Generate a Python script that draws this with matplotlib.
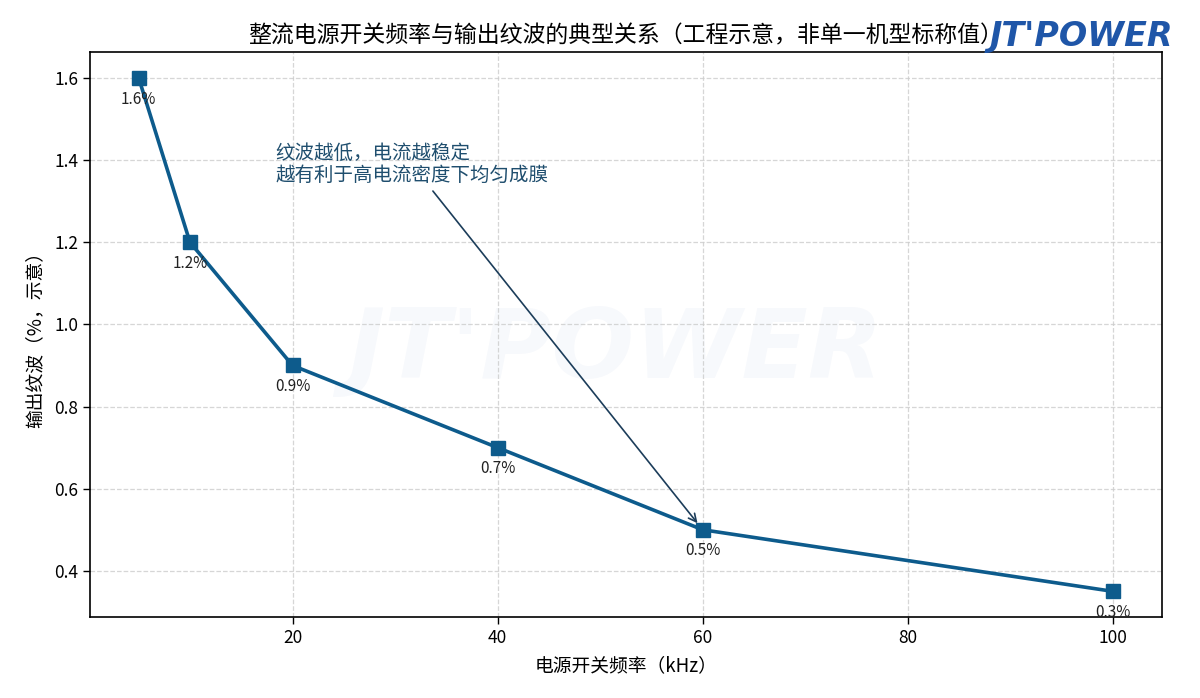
import matplotlib
matplotlib.use("Agg")
import matplotlib.pyplot as plt

freq_khz = [5, 10, 20, 40, 60, 100]
ripple_pct = [1.6, 1.2, 0.9, 0.7, 0.5, 0.35]
point_labels = ["1.6%", "1.2%", "0.9%", "0.7%", "0.5%", "0.3%"]

title = "整流电源开关频率与输出纹波的典型关系（工程示意，非单一机型标称值）"
xlabel = "电源开关频率（kHz）"
ylabel = "输出纹波（%，示意）"
note = "纹波越低，电流越稳定\n越有利于高电流密度下均匀成膜"
brand = "JT'POWER"

plt.rcParams['font.family'] = ['Noto Sans CJK SC', 'DejaVu Sans']
plt.rcParams['axes.unicode_minus'] = False

fig = plt.figure(figsize=(12, 6.98), dpi=100)
ax = fig.add_axes([0.075, 0.116, 0.893, 0.809])

line_color = '#0d5b8c'
ax.plot(freq_khz, ripple_pct, color=line_color, linewidth=2.6, marker='s',
        markersize=10, zorder=3)

for x, y, lab in zip(freq_khz, ripple_pct, point_labels):
    ax.annotate(lab, (x, y), textcoords='offset points', xytext=(0, -9),
                ha='center', va='top', fontsize=11, color='#222222', zorder=4)

ax.annotate(note, xy=(60, 0.5), xytext=(18.3, 1.443),
            ha='left', va='top', fontsize=14, color='#1f4e6e', linespacing=1.1,
            arrowprops=dict(arrowstyle='->', color='#1c3d5a', lw=1.2,
                            shrinkA=2, shrinkB=6))

ax.grid(True, linestyle='--', color='#cccccc', alpha=0.8, linewidth=0.9)
ax.set_axisbelow(True)

ax.set_xticks([20, 40, 60, 80, 100])
ax.set_yticks([0.4, 0.6, 0.8, 1.0, 1.2, 1.4, 1.6])
ax.tick_params(labelsize=12.5, length=5, width=1)
for s in ax.spines.values():
    s.set_linewidth(1.2)

ax.set_xlabel(xlabel, fontsize=13.5, labelpad=6)
ax.set_ylabel(ylabel, fontsize=13.5, labelpad=6)
ax.set_title(title, fontsize=16.5, pad=7)

# watermark
ax.text(0.49, 0.47, brand, transform=ax.transAxes, fontsize=70,
        family='DejaVu Sans', fontweight='bold', style='italic',
        color='#2a5fb0', alpha=0.035, ha='center', va='center', zorder=0)

# logo
fig.text(0.978, 0.948, brand, fontsize=24, family='DejaVu Sans',
         fontweight='bold', style='italic', color='#1f56a8',
         ha='right', va='center')

fig.savefig('out.png', dpi=100)
